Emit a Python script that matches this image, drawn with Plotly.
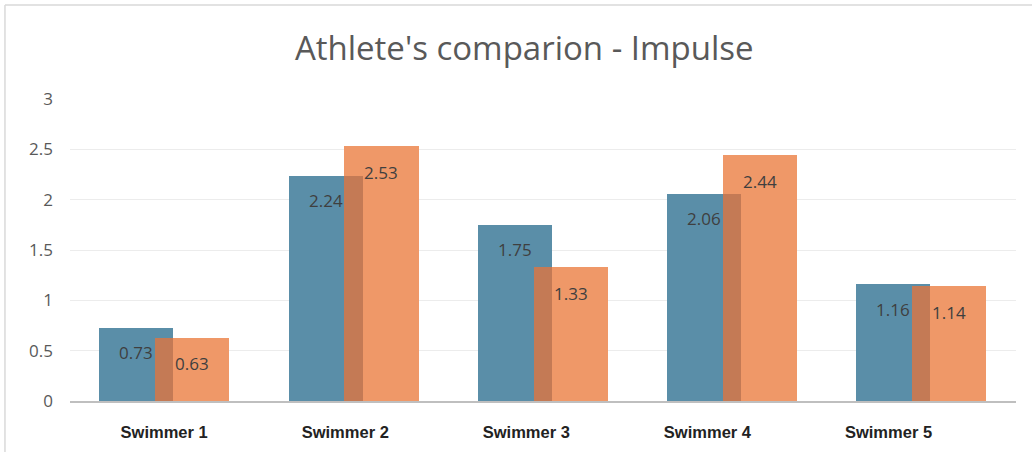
import plotly.graph_objects as go

categories = ["Swimmer 1", "Swimmer 2", "Swimmer 3", "Swimmer 4", "Swimmer 5"]
series_a = [0.73, 2.24, 1.75, 2.06, 1.16]
series_b = [0.63, 2.53, 1.33, 2.44, 1.14]
y_ticks = [0, 0.5, 1, 1.5, 2, 2.5, 3]
y_tick_labels = ["0", "0.5", "1", "1.5", "2", "2.5", "3"]

BLUE = "#5a8ea8"
ORANGE = "#ef9868"
OVERLAP = "#c47a55"
W = 0.392
OFF_A = -0.345
OFF_B = -0.05

idx = list(range(len(categories)))
overlap_h = [min(a, b) for a, b in zip(series_a, series_b)]
overlap_w = OFF_A + W - OFF_B

fig = go.Figure()
fig.add_trace(go.Bar(x=idx, y=series_a, width=W, offset=OFF_A,
                     marker=dict(color=BLUE, line=dict(width=0)), showlegend=False))
fig.add_trace(go.Bar(x=idx, y=series_b, width=W, offset=OFF_B,
                     marker=dict(color=ORANGE, line=dict(width=0)), showlegend=False))
fig.add_trace(go.Bar(x=idx, y=overlap_h, width=overlap_w, offset=OFF_B,
                     marker=dict(color=OVERLAP, line=dict(width=0)), showlegend=False))

lab_font = dict(family="Open Sans, Noto Sans, sans-serif", size=17, color="#3f3f3f")
for i, (a, b) in enumerate(zip(series_a, series_b)):
    fig.add_annotation(x=i + OFF_A + W / 2, y=a, text=f"{a:.2f}", showarrow=False,
                       yanchor="middle", yshift=-25, font=lab_font)
    fig.add_annotation(x=i + OFF_B + W / 2, y=b, text=f"{b:.2f}", showarrow=False,
                       yanchor="middle", yshift=-26, font=lab_font)

# category labels (slightly compressed spacing as in the reference)
fig.add_trace(go.Scatter(x=categories, y=[None] * len(categories), xaxis="x2",
                         showlegend=False, hoverinfo="skip"))

fig.update_layout(
    width=1032, height=455,
    margin=dict(l=70, r=16, t=99, b=54),
    paper_bgcolor="white", plot_bgcolor="white",
    barmode="overlay", bargap=0,
    title=dict(text="Athlete's comparion - Impulse", x=0.508, xanchor="center",
               y=0.893, yanchor="middle",
               font=dict(family="Open Sans, Noto Sans, sans-serif", size=33, color="#595959")),
    xaxis=dict(range=[-0.5, 4.5], showticklabels=False, showgrid=False, zeroline=False,
               showline=True, linecolor="#bfbfbf", linewidth=2, ticks=""),
    xaxis2=dict(type="category", overlaying="x", side="bottom", range=[-0.52, 4.704],
                showgrid=False, zeroline=False, showline=False, ticks="",
                tickfont=dict(family="Liberation Sans, Arial, sans-serif", size=16.5,
                              color="#222222", weight="bold"),
                ticklabelstandoff=19),
    yaxis=dict(range=[0, 3], tickvals=y_ticks, ticktext=y_tick_labels,
               showgrid=True, gridcolor="#ececec", gridwidth=1, zeroline=False,
               ticks="", ticklabelstandoff=16,
               tickfont=dict(family="Open Sans, Noto Sans, sans-serif", size=17, color="#595959")),
    shapes=[
        dict(type="line", xref="paper", yref="paper", x0=-65 / 945.5, x1=1.1, y0=1 + 94 / 302, y1=1 + 94 / 302,
             line=dict(color="#d9d9d9", width=1.5)),
        dict(type="line", xref="paper", yref="paper", x0=-65 / 945.5, x1=-65 / 945.5, y0=1 + 94 / 302, y1=-51 / 302,
             line=dict(color="#d9d9d9", width=1.5)),
    ],
)

fig.write_html("out.html")
